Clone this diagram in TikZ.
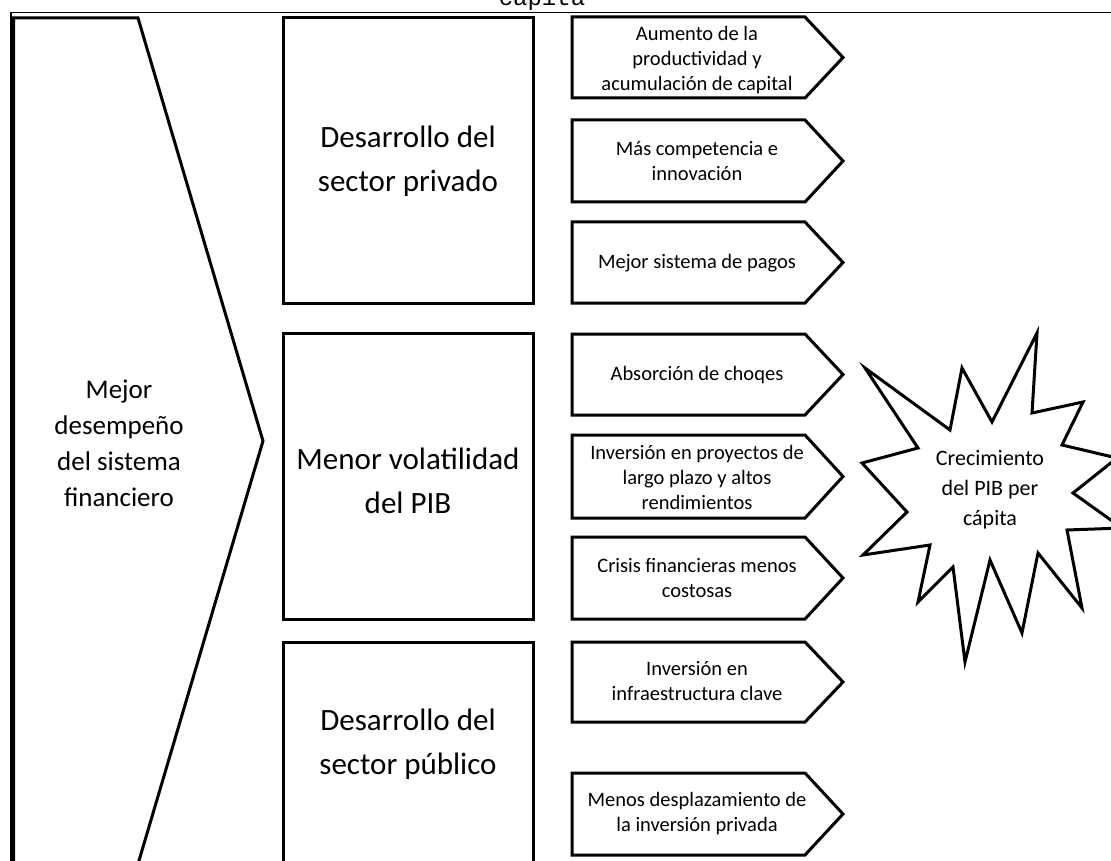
\documentclass[tikz,border=0pt]{standalone}
\usepackage{fontspec}
\setmainfont{Carlito}
\newfontfamily\capfont{Liberation Mono}
\begin{document}
\begin{tikzpicture}[x=1pt,y=-1pt,line join=miter,
  outline/.style={draw=black,line width=3pt,fill=white},
  frameline/.style={draw=black,line width=1.7pt},
  bigtext/.style={align=center,inner sep=0pt,font=\fontsize{31}{44}\selectfont},
  lefttext/.style={align=center,inner sep=0pt,font=\fontsize{27}{36}\selectfont},
  smalltext/.style={align=center,inner sep=0pt,font=\fontsize{20.5}{25}\selectfont},
  startext/.style={align=center,inner sep=0pt,font=\fontsize{22}{30}\selectfont}]
\useasboundingbox (0,0) rectangle (1111,861);
\clip (0,0) rectangle (1111,861);

% caption remnant and frame
\node[inner sep=0pt,anchor=base,font=\capfont\fontsize{24}{24}\selectfont] (cap) at (542,6) {capita};
\draw[frameline] (11.2,880) -- (11.2,12.5) -- (1120,12.5);

% left chevron
\draw[outline] (13.5,18) -- (138,18) -- (263,441) -- (138,864) -- (13.5,864) -- cycle;
\node[lefttext] (main) at (119,443) {Mejor\\desempeño\\del sistema\\financiero};

% middle boxes
\draw[outline] (283,18) rectangle (533,303);
\draw[outline] (283,333) rectangle (533,619);
\draw[outline] (283,642) rectangle (533,890);
\node[bigtext] (priv) at (408,161) {Desarrollo del\\sector privado};
\node[bigtext] (vol) at (408,481) {Menor volatilidad\\del PIB};
\node[bigtext] (pub) at (408,744) {Desarrollo del\\sector público};

% pentagon arrows
\foreach \t/\b in {17/98,120/202,222/303,334/415,435/518,537/619,642/722,773/855}{
  \draw[outline] (572,\t) -- (805,\t) -- (843,{(\t+\b)/2}) -- (805,\b) -- (572,\b) -- cycle;
}
\node[smalltext] (a1) at (697,60) {Aumento de la\\productividad y\\acumulación de capital};
\node[smalltext] (a2) at (697,161) {Más competencia e\\innovación};
\node[smalltext] (a3) at (697,263) {Mejor sistema de pagos};
\node[smalltext] (a4) at (697,375) {Absorción de choqes};
\node[smalltext] (a5) at (697,477) {Inversión en proyectos de\\largo plazo y altos\\rendimientos};
\node[smalltext] (a6) at (697,578) {Crisis financieras menos\\costosas};
\node[smalltext] (a7) at (697,681) {Inversión en\\infraestructura clave};
\node[smalltext] (a8) at (697,814) {Menos desplazamiento de\\la inversión privada};

% explosion star
\draw[outline] (865,368) -- (950,430) -- (962,368) -- (992,422) -- (1037,333) -- (1032,413)
  -- (1083,402) -- (1062,445) -- (1117,458) -- (1073,493) -- (1122,528) -- (1067,530)
  -- (1082,608) -- (1038,553) -- (1022,633) -- (990,560) -- (965,662) -- (953,567)
  -- (918,602) -- (930,545) -- (863,555) -- (907,512) -- (862,463) -- (918,448) -- cycle;
\node[startext] (growth) at (990,490) {Crecimiento\\del PIB per\\cápita};
\end{tikzpicture}
\end{document}
